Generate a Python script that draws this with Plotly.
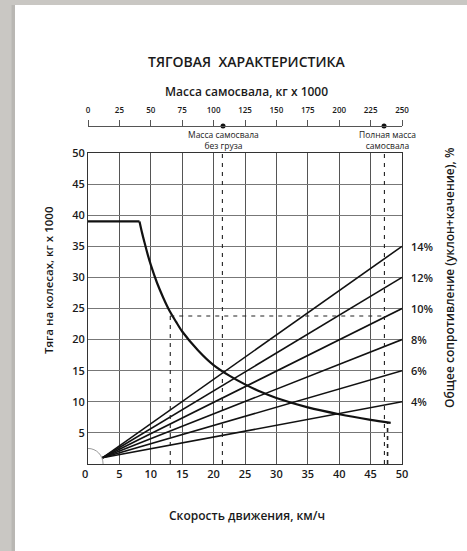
import plotly.graph_objects as go

# ---- data ----
speed_ticks = [5, 10, 15, 20, 25, 30, 35, 40, 45, 50]
thrust_ticks = [5, 10, 15, 20, 25, 30, 35, 40, 45, 50]
mass_ticks = [0, 25, 50, 75, 100, 125, 150, 175, 200, 225, 250]

# traction curve (speed km/h, thrust kg x 1000)
curve_speed = [0, 8.2, 8.6, 9, 9.5, 10, 11, 12, 13, 14, 15, 17.5, 20, 22.5, 25, 27.5, 30, 35, 40, 45, 48.2]
curve_thrust = [39, 39, 37.2, 35.6, 33.7, 32.0, 29.1, 26.7, 24.6, 22.9, 21.3, 18.3, 15.9, 14.2, 12.8,
                11.6, 10.6, 9.1, 8.0, 7.1, 6.6]

# resistance lines: start and end points
grade_labels = ["14%", "12%", "10%", "8%", "6%", "4%"]
grade_start_x = [2.3, 2.3, 2.3, 2.3, 2.3, 2.3]
grade_start_y = [1.0, 1.0, 1.0, 1.0, 1.0, 1.0]
grade_end_x = [50, 50, 50, 50, 50, 50]
grade_end_y = [35, 30, 25, 20, 15, 10]

empty_mass = 107.5
full_mass = 235.7
empty_speed = 21.4
full_speed = 47.2
full_speed2 = 47.7
op_speed = 13.1
op_thrust = 23.8
end_thrust = 6.6

FONT = "Open Sans"
TXT = "#1a1a1a"

fig = go.Figure()

# resistance lines
for lab, x0, y0, x1, y1 in zip(grade_labels, grade_start_x, grade_start_y, grade_end_x, grade_end_y):
    fig.add_trace(go.Scatter(x=[x0, x1], y=[y0, y1], mode="lines",
                             line=dict(color="#111111", width=1.6), showlegend=False, hoverinfo="skip"))
    fig.add_annotation(x=x1, y=y1, text=lab, showarrow=False, xanchor="left", xshift=7,
                       font=dict(family=FONT, size=11, color=TXT, weight=600))

# traction curve: flat part + hyperbolic part
fig.add_trace(go.Scatter(x=curve_speed[:2], y=curve_thrust[:2], mode="lines",
                         line=dict(color="#111111", width=2.2, shape="linear"),
                         showlegend=False, hoverinfo="skip"))
fig.add_trace(go.Scatter(x=curve_speed[1:], y=curve_thrust[1:], mode="lines",
                         line=dict(color="#111111", width=2.2, shape="spline", smoothing=0.8),
                         showlegend=False, hoverinfo="skip"))

dash = dict(color="#222222", width=1.1, dash="4px,5px")
# dashed helper lines
fig.add_trace(go.Scatter(x=[empty_speed, empty_speed], y=[0, 50], mode="lines", line=dash,
                         showlegend=False, hoverinfo="skip"))
fig.add_trace(go.Scatter(x=[full_speed, full_speed], y=[0, 50], mode="lines", line=dash,
                         showlegend=False, hoverinfo="skip"))
fig.add_trace(go.Scatter(x=[full_speed2, full_speed2], y=[0, end_thrust], mode="lines",
                         line=dict(color="#222222", width=1.6, dash="4px,4px"),
                         showlegend=False, hoverinfo="skip"))
fig.add_trace(go.Scatter(x=[op_speed, full_speed], y=[op_thrust, op_thrust], mode="lines", line=dash,
                         showlegend=False, hoverinfo="skip"))
fig.add_trace(go.Scatter(x=[op_speed, op_speed], y=[0, op_thrust], mode="lines", line=dash,
                         showlegend=False, hoverinfo="skip"))

# markers on top mass axis
fig.add_trace(go.Scatter(x=[empty_mass, full_mass], y=[1, 1], mode="markers", xaxis="x2", yaxis="y2",
                         marker=dict(color="#111111", size=5), cliponaxis=False,
                         showlegend=False, hoverinfo="skip"))

# small arc near origin
fig.add_shape(type="path", path="M 0,2.5 C 1.35,2.5 2.4,1.4 2.4,0", xref="x", yref="y",
              line=dict(color="#999999", width=1))

# background: grey frame with white page
fig.add_shape(type="rect", xref="paper", yref="paper", x0=-0.2835, x1=1.21, y0=-0.26, y1=1.4,
              fillcolor="#c9c7c3", line=dict(width=0), layer="below")
fig.add_shape(type="rect", xref="paper", yref="paper", x0=-0.2435, x1=-0.2325, y0=-0.26, y1=1.358,
              fillcolor="#b9b7b3", line=dict(width=0), layer="below")
fig.add_shape(type="rect", xref="paper", yref="paper", x0=-0.2325, x1=1.21, y0=-0.26, y1=1.358,
              fillcolor="#ffffff", line=dict(width=0), layer="below")

# texts
fig.add_annotation(xref="paper", yref="paper", x=0.505, y=(464 - 62) / 338, text="ТЯГОВАЯ  ХАРАКТЕРИСТИКА",
                   showarrow=False, font=dict(family=FONT, size=14, color=TXT, weight=600), yanchor="middle")
fig.add_annotation(xref="paper", yref="paper", x=0.505, y=(464 - 92) / 338, text="Масса самосвала, кг x 1000",
                   showarrow=False, font=dict(family=FONT, size=12, color=TXT, weight=600), yanchor="middle")
fig.add_annotation(xref="x2", yref="paper", x=empty_mass, y=(464 - 140) / 338,
                   text="Масса самосвала<br>без груза", showarrow=False, yanchor="middle",
                   font=dict(family=FONT, size=8.5, color=TXT))
fig.add_annotation(xref="x2", yref="paper", x=full_mass + 3, y=(464 - 140) / 338,
                   text="Полная масса<br>самосвала", showarrow=False, yanchor="middle",
                   font=dict(family=FONT, size=8.5, color=TXT))
fig.add_annotation(xref="paper", yref="paper", x=(80 - 88) / 314, y=(464 - 473) / 338, text="0",
                   showarrow=False, font=dict(family=FONT, size=11, color=TXT, weight=600), yanchor="middle")
fig.add_annotation(xref="paper", yref="paper", x=(247 - 88) / 314, y=(464 - 515) / 338,
                   text="Скорость движения, км/ч", showarrow=False, yanchor="middle",
                   font=dict(family=FONT, size=12, color=TXT, weight=600))
fig.add_annotation(xref="paper", yref="paper", x=(48 - 88) / 314, y=(464 - 280) / 338,
                   text="Тяга на колесах, кг x 1000", showarrow=False, textangle=-90,
                   xanchor="center", yanchor="middle", font=dict(family=FONT, size=11.5, color=TXT, weight=600))
fig.add_annotation(xref="paper", yref="paper", x=(449 - 88) / 314, y=(464 - 278) / 338,
                   text="Общее сопротивление (уклон+качение), %", showarrow=False, textangle=-90,
                   xanchor="center", yanchor="middle", font=dict(family=FONT, size=12, color=TXT, weight=600))

ydom_top = (464 - 153) / 338

fig.update_layout(
    width=467, height=551,
    margin=dict(l=88, r=65, t=126, b=87),
    paper_bgcolor="#c9c7c3", plot_bgcolor="#ffffff",
    font=dict(family=FONT, color=TXT),
    xaxis=dict(range=[0, 50], tickvals=speed_ticks, showgrid=True, gridcolor="#555555", gridwidth=1,
               showline=True, linecolor="#333333", linewidth=1, mirror=True, zeroline=False,
               ticks="", tickfont=dict(family=FONT, size=11, color=TXT, weight=600), fixedrange=True),
    yaxis=dict(range=[0, 50], domain=[0, ydom_top], tickvals=thrust_ticks, showgrid=True,
               gridcolor="#777777", gridwidth=1, showline=True, linecolor="#333333", linewidth=1,
               mirror=True, zeroline=False, ticks="", tickfont=dict(family=FONT, size=11, color=TXT, weight=600),
               fixedrange=True),
    xaxis2=dict(range=[0, 250], tickvals=mass_ticks, overlaying="x", side="top", anchor="free",
                position=1, showgrid=False, showline=True, linecolor="#555555", linewidth=1,
                ticks="outside", ticklen=6, tickcolor="#555555", zeroline=False, ticklabelstandoff=4,
                tickfont=dict(family=FONT, size=8, color=TXT, weight=600), fixedrange=True),
    yaxis2=dict(range=[0, 1], domain=[ydom_top, 1], visible=False, anchor="x2", fixedrange=True),
)

fig.write_html("out.html", config={"displayModeBar": False},
               post_script="document.body.style.margin='0px';document.body.style.overflow='hidden';")
